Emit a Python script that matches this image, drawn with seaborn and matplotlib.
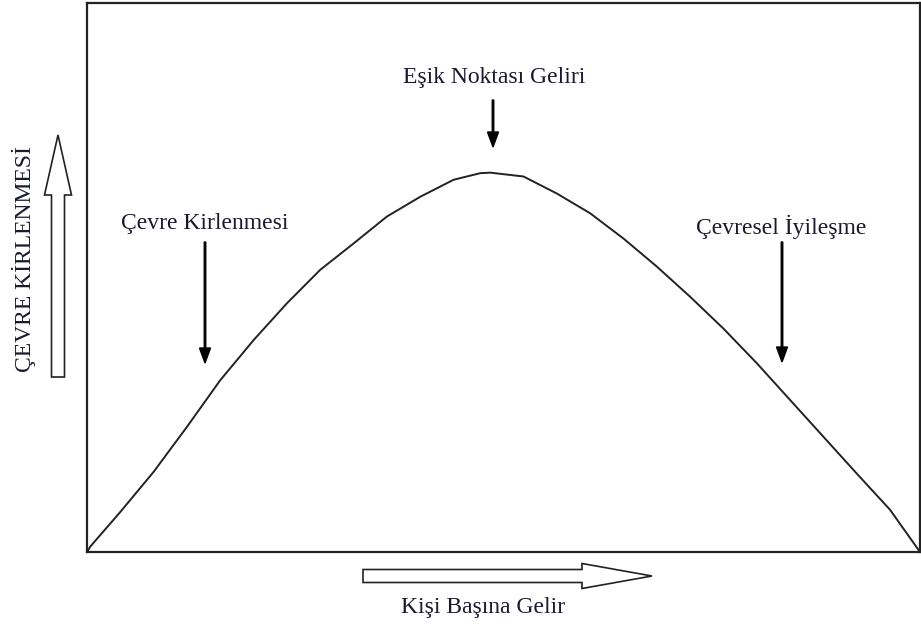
import numpy as np
import pandas as pd
import matplotlib
matplotlib.use("Agg")
import matplotlib.pyplot as plt
from matplotlib.patches import FancyArrow
from matplotlib.transforms import Affine2D
import seaborn as sns

# Curve (income index 0-100, pollution index 0-100 of box height)
income = [0, 0.4, 4.0, 8.0, 12.0, 16.0, 20.0, 24.0, 28.0, 32.0, 36.0, 40.0, 44.0,
          47.2, 48.4, 52.4, 56.4, 60.4, 64.4, 68.4, 72.4, 76.4, 80.4, 84.4, 88.4,
          92.4, 96.4, 100]
pollution = [0, 1.0, 7.3, 14.6, 22.8, 31.3, 38.6, 45.3, 51.4, 56.2, 61.1, 64.7, 67.8,
             69.0, 69.1, 68.4, 65.3, 61.7, 57.1, 52.0, 46.5, 40.7, 34.4, 27.7, 21.0,
             14.3, 7.7, 0]

y_label = "ÇEVRE KİRLENMESİ"
x_label = "Kişi Başına Gelir"
notes = ["Çevre Kirlenmesi", "Eşik Noktası Geliri", "Çevresel İyileşme"]

df = pd.DataFrame({"income": income, "pollution": pollution})

sns.set_theme(style="white")
plt.rcParams["font.family"] = ["Liberation Serif", "DejaVu Serif"]

W, H = 921, 626
fig = plt.figure(figsize=(W / 100, H / 100), dpi=100)
ax = fig.add_axes([87 / W, 1 - 552 / H, (920 - 87) / W, (552 - 3) / H])

sns.lineplot(data=df, x="income", y="pollution", ax=ax, color="#222222",
             linewidth=1.4, sort=False)
ax.set_xlim(0, 100)
ax.set_ylim(0, 100)
ax.set_xticks([])
ax.set_yticks([])
ax.set_xlabel("")
ax.set_ylabel("")
for s in ax.spines.values():
    s.set_visible(True)
    s.set_color("#222222")
    s.set_linewidth(1.6)

# pixel (top-left origin) transform
pxT = Affine2D().scale(1 / W, -1 / H).translate(0, 1) + fig.transFigure

def down_arrow(x, y0, y1):
    fig.patches.append(FancyArrow(x, y0, 0, y1 - y0, width=1.5, head_width=11,
                                  head_length=15, length_includes_head=True,
                                  color="black", transform=pxT))

fs = 17
tc = "#1a1a2e"
fig.text(205 / W, 1 - 223 / H, notes[0], ha="center", va="center", fontsize=fs, color=tc)
fig.text(494 / W, 1 - 77 / H, notes[1], ha="center", va="center", fontsize=fs, color=tc)
fig.text(781 / W, 1 - 227 / H, notes[2], ha="center", va="center", fontsize=fs, color=tc)
down_arrow(205, 242, 363)
down_arrow(493, 100, 147)
down_arrow(782, 242, 362)

# hollow axis arrows
fig.patches.append(FancyArrow(58, 377, 0, 135 - 377, width=13, head_width=27,
                              head_length=60, length_includes_head=True,
                              facecolor="white", edgecolor="#222222", linewidth=1.2,
                              transform=pxT))
fig.patches.append(FancyArrow(363, 576, 652 - 363, 0, width=13, head_width=25,
                              head_length=70, length_includes_head=True,
                              facecolor="white", edgecolor="#222222", linewidth=1.2,
                              transform=pxT))

fig.text(24 / W, 1 - 259 / H, y_label, ha="center", va="center", rotation=90,
         fontsize=fs, color=tc)
fig.text(483 / W, 1 - 608 / H, x_label, ha="center", va="center", fontsize=fs,
         color=tc)

fig.savefig("out.png", dpi=100)
